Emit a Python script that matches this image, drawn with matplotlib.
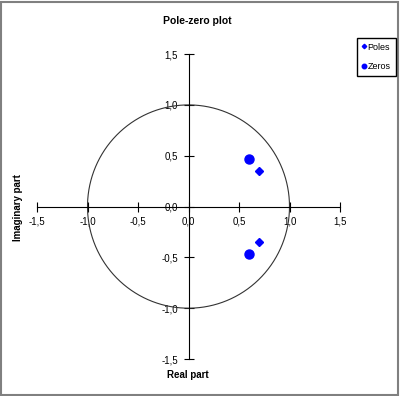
import numpy as np
import matplotlib.pyplot as plt
from matplotlib.ticker import FuncFormatter
from matplotlib.patches import Rectangle

plt.rcParams['font.family'] = ['Liberation Sans', 'DejaVu Sans']

# pole / zero locations (real, imaginary)
poles_re = [0.7, 0.7]
poles_im = [0.35, -0.35]
zeros_re = [0.6, 0.6]
zeros_im = [0.47, -0.47]
ticks = [-1.5, -1.0, -0.5, 0.0, 0.5, 1.0, 1.5]

fig = plt.figure(figsize=(4.0, 3.96), dpi=100)
fig.patches.append(Rectangle((0.002, 0.002), 0.994, 0.994, transform=fig.transFigure,
                             fill=False, edgecolor='#808080', linewidth=1.5))
ax = fig.add_axes([0.0925, 0.0934, 0.7575, 0.770])

t = np.linspace(0, 2 * np.pi, 400)
ax.plot(np.cos(t), np.sin(t), color='#333333', linewidth=0.8)
ax.plot(poles_re, poles_im, linestyle='none', marker='D', markersize=4.5,
        color='#0000ff', label='Poles')
ax.plot(zeros_re, zeros_im, linestyle='none', marker='o', markersize=6.5,
        color='#0000ff', label='Zeros')

ax.set_xlim(-1.5, 1.5)
ax.set_ylim(-1.5, 1.5)
ax.spines['left'].set_position(('data', 0))
ax.spines['bottom'].set_position(('data', 0))
ax.spines['top'].set_visible(False)
ax.spines['right'].set_visible(False)
for s in ('left', 'bottom'):
    ax.spines[s].set_linewidth(0.8)
ax.set_xticks(ticks)
ax.set_yticks(ticks)
fmt = FuncFormatter(lambda v, p: ('%.1f' % v).replace('.', ','))
ax.xaxis.set_major_formatter(fmt)
ax.yaxis.set_major_formatter(fmt)
ax.tick_params(direction='inout', length=7, width=0.8, labelsize=7, pad=4)

fig.text(0.493, 0.948, 'Pole-zero plot', ha='center', va='center',
         fontsize=7.5, fontweight='bold')
fig.text(0.47, 0.053, 'Real part', ha='center', va='center',
         fontsize=7, fontweight='bold')
fig.text(0.045, 0.477, 'Imaginary part', ha='center', va='center',
         rotation=90, fontsize=7, fontweight='bold')

fig.legend(loc='upper left', bbox_to_anchor=(0.893, 0.905), fontsize=6.5,
           frameon=True, fancybox=False, edgecolor='black', framealpha=1,
           markerscale=0.5, handlelength=0.4, handletextpad=0.2,
           borderpad=0.55, borderaxespad=0, labelspacing=1.15)

fig.savefig('out.png', dpi=100)
